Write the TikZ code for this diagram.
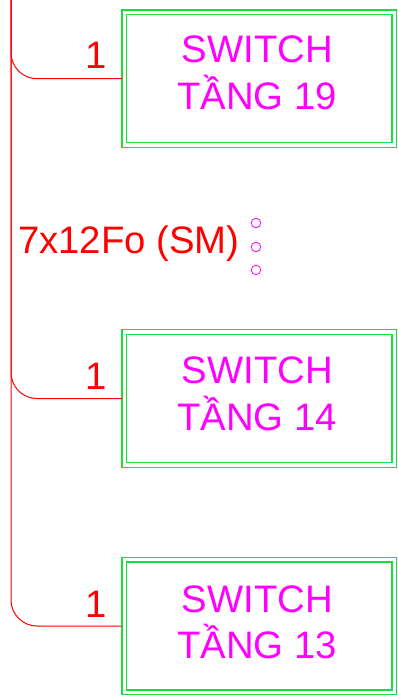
\documentclass[tikz,border=0pt]{standalone}
\usepackage{fontspec}
\setmainfont{Liberation Sans}
\definecolor{swgreen}{RGB}{20,225,60}
\definecolor{swmag}{RGB}{255,0,255}
\begin{document}
\begin{tikzpicture}[x=1pt,y=-1pt,
  swbox/.style={draw=swgreen,double=white,double distance=3.5pt,line width=1.2pt,
    minimum width=270pt,minimum height=132.6pt,inner sep=0pt,outer sep=2.35pt},
  swtext/.style={text=swmag,font=\fontsize{38.3}{45}\selectfont,inner sep=0pt,anchor=base},
  redtext/.style={text=red,font=\fontsize{38.3}{45}\selectfont,inner sep=0pt,anchor=base west},
  feeder/.style={draw=red,line width=1pt,rounded corners=26pt},
  dotmark/.style={draw=swmag,line width=0.8pt,circle,minimum size=9.5pt,inner sep=0pt}]
\useasboundingbox (0,0) rectangle (398,698);
% boxes
\node[swbox] (box1) at (259.35,78.7) {};
\node[swbox] (box2) at (259.35,398.5) {};
\node[swbox] (box3) at (259.35,626) {};
% box texts
\node[swtext] (b1a) at (257.5,63) {SWITCH};
\node[swtext] (b1b) at (257,110) {TẦNG 19};
\node[swtext] (b2a) at (257.5,383) {SWITCH};
\node[swtext] (b2b) at (257,430) {TẦNG 14};
\node[swtext] (b3a) at (257.5,612) {SWITCH};
\node[swtext] (b3b) at (257,658) {TẦNG 13};
% trunk
\coordinate (trunktop) at (11,0);
\draw[feeder] (trunktop) |- (box1.west);
\draw[feeder] (trunktop) |- (box2.west);
\draw[feeder] (trunktop) |- (box3.west);
% labels
\node[redtext] (n1) at (85,69) {1};
\node[redtext] (n2) at (85,389) {1};
\node[redtext] (n3) at (85,617) {1};
\node[redtext] (cable) at (18,253) {7x12Fo (SM)};
% dots
\node[dotmark] (d1) at (256,223) {};
\node[dotmark] (d2) at (256,247) {};
\node[dotmark] (d3) at (256,270) {};
\end{tikzpicture}
\end{document}
